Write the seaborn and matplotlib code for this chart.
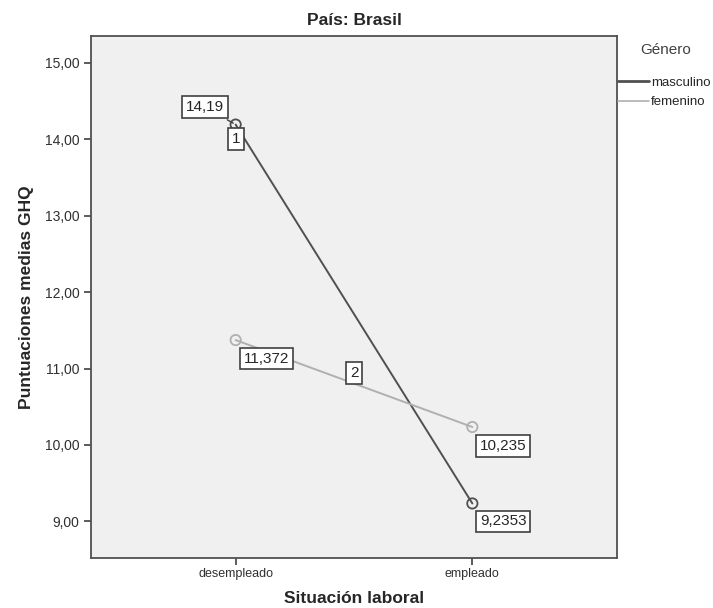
import pandas as pd
import seaborn as sns
import matplotlib.pyplot as plt

situacion = ["desempleado", "empleado"]
masculino = [14.19, 9.2353]
femenino = [11.372, 10.235]
etiquetas_m = ["14,19", "9,2353"]
etiquetas_f = ["11,372", "10,235"]
yticks = [9, 10, 11, 12, 13, 14, 15]

df = pd.DataFrame({
    "Situación laboral": situacion * 2,
    "media": masculino + femenino,
    "Género": ["masculino"] * 2 + ["femenino"] * 2,
})
df["x"] = df["Situación laboral"].map({s: i for i, s in enumerate(situacion)})

sns.set_style("white")
plt.rcParams["font.family"] = ["Arial", "Liberation Sans", "DejaVu Sans"]

fig = plt.figure(figsize=(7.13, 6.08), dpi=100)
ax = fig.add_axes([0.128, 0.082, 0.737, 0.859])
ax.set_facecolor("#f0f0f0")

colores = {"masculino": "#505050", "femenino": "#b0b0b0"}
sns.lineplot(data=df, x="x", y="media", hue="Género", palette=colores,
             hue_order=["masculino", "femenino"], ax=ax, linewidth=1.4,
             legend=False)
for g in ["masculino", "femenino"]:
    sub = df[df["Género"] == g]
    ax.scatter(sub["x"], sub["media"], s=55, facecolors="none",
               edgecolors=colores[g], linewidths=1.3, zorder=3)

box = dict(boxstyle="square,pad=0.25", fc="white", ec="#404040", lw=1.2)
fs = 11
ax.annotate(etiquetas_m[0], (0, masculino[0]), xytext=(-0.13, 14.42),
            fontsize=fs, ha="center", va="center", bbox=box,
            arrowprops=dict(arrowstyle="-", color="#404040", lw=1))
ax.annotate("1", (0, masculino[0]), xytext=(0, 14.0), fontsize=fs,
            ha="center", va="center", bbox=box)
ax.annotate(etiquetas_m[1], (1, masculino[1]), xytext=(1.13, 9.0),
            fontsize=fs, ha="center", va="center", bbox=box)
ax.annotate(etiquetas_f[0], (0, femenino[0]), xytext=(0.13, 11.13),
            fontsize=fs, ha="center", va="center", bbox=box)
ax.annotate("2", (0.5, 10.8), xytext=(0.5, 10.94), fontsize=fs,
            ha="center", va="center", bbox=box)
ax.annotate(etiquetas_f[1], (1, femenino[1]), xytext=(1.13, 9.99),
            fontsize=fs, ha="center", va="center", bbox=box)

ax.set_xlim(-0.61, 1.61)
ax.set_ylim(8.52, 15.35)
ax.set_xticks([0, 1])
ax.set_xticklabels(situacion, fontsize=9)
ax.set_yticks(yticks)
ax.set_yticklabels([f"{v},00" for v in yticks], fontsize=10)
ax.tick_params(axis="both", direction="out", length=5, width=1.2,
               color="#404040", left=True, bottom=True, labelcolor="#303030")
ax.tick_params(axis="x", pad=2)
for s in ax.spines.values():
    s.set_color("#505050")
    s.set_linewidth(1.3)

ax.set_xlabel("Situación laboral", fontsize=12.5, fontweight="bold", labelpad=8)
ax.set_ylabel("Puntuaciones medias GHQ", fontsize=12.5, fontweight="bold", labelpad=8)
ax.set_title("País: Brasil", fontsize=12.5, fontweight="bold", pad=8)

fig.text(0.933, 0.918, "Género", fontsize=11, color="#404040",
         ha="center", va="center")
handles = [plt.Line2D([], [], color=colores[g], lw=2 if g == "masculino" else 1.2)
           for g in ["masculino", "femenino"]]
fig.legend(handles, ["masculino", "femenino"], loc="upper left",
           bbox_to_anchor=(0.858, 0.885), frameon=False, fontsize=9.5,
           handlelength=2.3, handletextpad=0.2, labelspacing=0.55,
           borderpad=0)

fig.savefig("out.png", dpi=100)
